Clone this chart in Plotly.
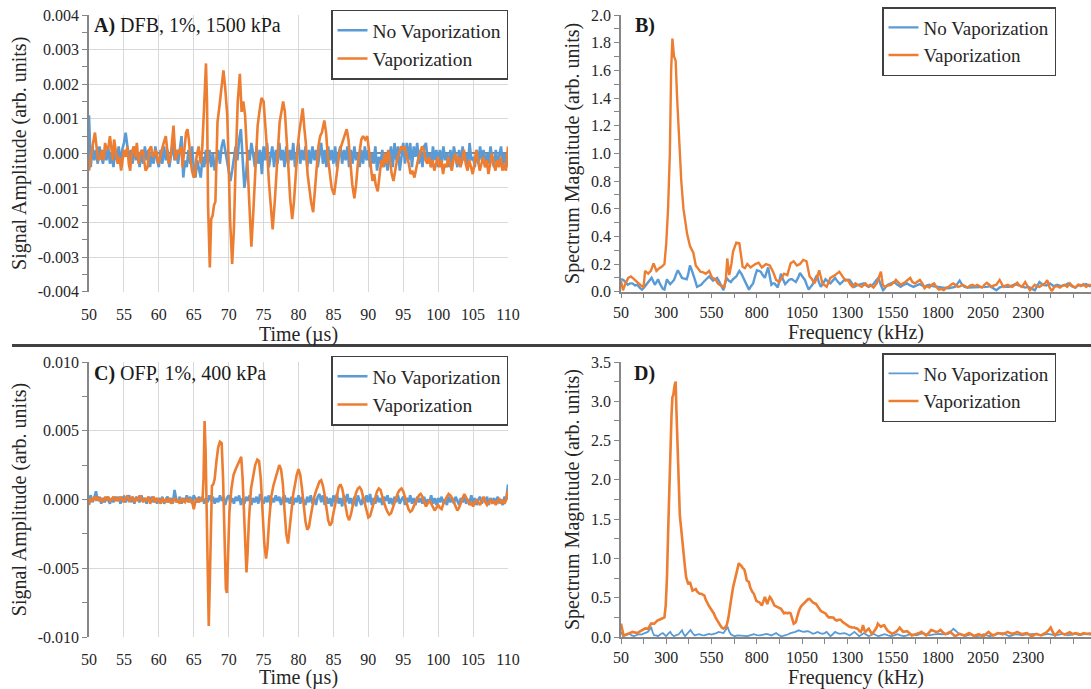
import plotly.graph_objects as go

# ---------------- DATA ----------------
# Panel A: DFB, 1%, 1500 kPa  (time in microseconds, amplitude arb. units)
A_NOVAP = [
    0.0011, -0.0004, 0.0002, -0.0002,
    0.0001, -0.0003, 0.0002, -0.0001,
    -0.0003, 0.0001, -0.0002, 0.0002,
    -0.0003, 0.0000, -0.0004, 0.0001,
    -0.0002, 0.0002, -0.0003, 0.0001,
    0.0003, 0.0006, 0.0002, -0.0002,
    0.0001, -0.0003, 0.0002, -0.0002,
    0.0000, -0.0004, 0.0001, -0.0003,
    0.0002, -0.0002, 0.0001, -0.0004,
    0.0000, -0.0003, 0.0002, -0.0002,
    -0.0004, 0.0001, -0.0003, 0.0002,
    -0.0002, 0.0001, -0.0004, 0.0000,
    0.0003, -0.0002, 0.0001, -0.0003,
    0.0002, 0.0005, -0.0007, -0.0002,
    -0.0004, 0.0001, -0.0003, 0.0002,
    -0.0004, -0.0007, -0.0002, -0.0005,
    -0.0007, -0.0001, -0.0004, 0.0001,
    -0.0003, 0.0001, -0.0004, 0.0000,
    -0.0005, -0.0002, 0.0001, -0.0003,
    0.0002, 0.0004, 0.0001, -0.0002,
    -0.0004, -0.0008, -0.0005, -0.0002,
    0.0002, -0.0002, 0.0004, 0.0007,
    -0.0003, -0.0010, -0.0006, 0.0001,
    -0.0002, 0.0003, 0.0000, -0.0004,
    0.0002, -0.0003, 0.0001, -0.0006,
    0.0002, -0.0002, 0.0003, -0.0004,
    -0.0001, 0.0002, -0.0004, 0.0001,
    -0.0003, 0.0003, -0.0002, 0.0001,
    -0.0004, 0.0002, -0.0003, 0.0001,
    -0.0002, 0.0003, -0.0004, 0.0000,
    0.0003, -0.0003, 0.0001, -0.0002,
    0.0002, -0.0004, 0.0001, -0.0003,
    0.0002, -0.0002, 0.0001, -0.0004,
    0.0000, 0.0003, -0.0003, 0.0001,
    -0.0004, 0.0002, -0.0002, 0.0001,
    -0.0003, 0.0002, -0.0004, 0.0000,
    0.0002, -0.0003, 0.0001, -0.0002,
    0.0002, -0.0004, 0.0001, -0.0003,
    0.0002, -0.0002, 0.0000, -0.0004,
    0.0001, -0.0003, 0.0002, -0.0002,
    0.0001, -0.0004, 0.0000, -0.0003,
    0.0002, -0.0005, -0.0001, -0.0003,
    0.0001, -0.0004, 0.0000, -0.0005,
    -0.0001, 0.0002, -0.0004, 0.0003,
    -0.0002, 0.0002, -0.0005, 0.0000,
    0.0003, -0.0003, 0.0003, -0.0002,
    0.0003, -0.0004, 0.0002, -0.0001,
    0.0003, -0.0003, 0.0001, -0.0004,
    0.0002, 0.0003, -0.0002, 0.0000,
    -0.0004, 0.0002, -0.0002, 0.0001,
    -0.0004, 0.0001, -0.0003, 0.0002,
    -0.0002, 0.0000, -0.0004, 0.0001,
    -0.0003, 0.0002, -0.0001, -0.0004,
    0.0001, -0.0003, 0.0002, -0.0002,
    0.0000, -0.0004, 0.0003, -0.0002,
    -0.0001, -0.0004, 0.0001, -0.0003,
    0.0002, -0.0002, 0.0001, -0.0004,
    0.0000, -0.0003, 0.0002, -0.0002,
    -0.0004, 0.0001, -0.0003, 0.0000,
    0.0002, -0.0003, 0.0000, -0.0004,
    -0.0002,
]

A_VAP_PTS = [
    (50.0, -0.0005), (50.25, -0.0001), (50.5, 0.0002), (50.85, 0.0006), (51.1, 0.0001),
    (51.3, -0.0002), (51.6, -0.00015), (51.85, 0.0001), (52.1, -0.0002), (52.3, 0.0003),
    (52.55, 0.0001), (52.8, 0.0002), (53.0, 0.0005), (53.2, 0.0001), (53.4, -0.0002),
    (53.6, 0.0004), (53.85, 0.0001), (54.1, -0.0003), (54.35, -0.0001), (54.6, -0.0005),
    (54.8, -0.0002), (55.0, 0.0001), (55.25, -0.0001), (55.5, 0.0002), (55.7, -0.0003),
    (55.9, -0.0005), (56.1, 0.0), (56.4, 0.0002), (56.65, -0.0001), (56.85, 0.0003),
    (57.1, -0.0003), (57.35, 0.0), (57.7, 0.0001), (57.9, -0.0003), (58.1, -0.0005),
    (58.4, -0.0004), (58.6, 0.0001), (58.9, 0.0002), (59.1, -0.0001), (59.3, -0.00005),
    (59.6, 0.0001), (59.8, -0.0002), (60.0, -0.0003), (60.3, 0.0), (60.5, 0.0002),
    (60.7, 0.0003), (61.0, 0.0005), (61.2, 0.0), (61.4, -0.0003), (61.7, -0.0001),
    (61.9, 0.0004), (62.1, 0.0008), (62.4, -0.0002), (62.7, 0.0001), (63.0, 0.0),
    (63.2, 0.0002), (63.4, -0.0004), (63.65, 0.0001), (63.9, 0.0006), (64.1, 0.0007),
    (64.3, 0.0004), (64.5, -0.0001), (64.75, -0.0005), (65.0, -0.0007), (65.2, -0.0006),
    (65.4, -0.0001), (65.7, 0.0002), (66.0, -0.0003), (66.2, 0.0001), (66.45, 0.0012),
    (66.75, 0.0026), (66.9, 0.0015), (67.05, -0.0015), (67.3, -0.0033), (67.5, -0.0019),
    (67.7, -0.0018), (67.9, -0.0015), (68.1, -0.0014), (68.25, -0.0005), (68.4, 0.0009),
    (68.7, 0.0014), (69.0, 0.0019), (69.25, 0.0024), (69.5, 0.0019), (69.8, 0.0011),
    (70.0, -0.0003), (70.2, -0.0019), (70.5, -0.0032), (70.75, -0.0022), (71.0, -0.0003),
    (71.3, 0.0015), (71.6, 0.0023), (71.85, 0.0012), (72.1, 0.0015), (72.35, 0.0011),
    (72.6, 0.0001), (72.8, -0.0008), (73.05, -0.0020), (73.25, -0.0027), (73.5, -0.0018),
    (73.9, 0.0001), (74.15, 0.0008), (74.4, 0.0012), (74.7, 0.0016), (75.0, 0.0015),
    (75.25, 0.0009), (75.5, 0.0001), (75.75, -0.0008), (76.0, -0.0014), (76.3, -0.0022),
    (76.6, -0.0014), (76.85, -0.0006), (77.1, 0.0001), (77.3, 0.0009), (77.55, 0.0012),
    (77.8, 0.0015), (78.05, 0.0012), (78.3, 0.0005), (78.55, -0.0004), (78.8, -0.0013),
    (79.1, -0.0019), (79.35, -0.0014), (79.6, -0.0006), (79.85, 0.0001), (80.1, 0.0006),
    (80.35, 0.0010), (80.6, 0.0013), (80.85, 0.0007), (81.05, 0.0003), (81.3, -0.0006),
    (81.55, -0.0011), (81.8, -0.0014), (82.1, -0.0017), (82.35, -0.0011), (82.6, -0.0003),
    (82.85, 0.0002), (83.1, 0.0005), (83.35, 0.0006), (83.7, 0.00095), (83.95, 0.0006),
    (84.2, -0.0001), (84.45, -0.0006), (84.75, -0.0010), (85.1, -0.0012), (85.35, -0.0008),
    (85.6, -0.0003), (85.85, 0.0000), (86.1, 0.0002), (86.4, 0.0004), (86.65, 0.0005),
    (86.9, 0.0007), (87.15, 0.0004), (87.4, -0.0003), (87.7, -0.0009), (88.0, -0.0013),
    (88.25, -0.0009), (88.5, -0.0003), (88.75, 0.0001), (89.0, 0.0004), (89.25, 0.0005),
    (89.55, 0.0004), (89.85, 0.0005), (90.1, 0.0), (90.35, -0.0005), (90.6, -0.0008),
    (90.85, -0.0006), (91.05, -0.0009), (91.35, -0.0011), (91.6, -0.0006), (91.85, -0.0002),
    (92.1, -0.0004), (92.35, 0.0), (92.6, -0.0003), (92.85, 0.0001), (93.1, -0.0002),
    (93.35, -0.0006), (93.6, -0.0008), (93.85, -0.0005), (94.1, -0.0002), (94.4, 0.0),
    (94.7, 0.0002), (94.95, 0.0001), (95.2, 0.0002), (95.5, -0.0001), (95.8, -0.0003),
    (96.05, -0.0006), (96.3, -0.0005), (96.6, -0.0007), (96.85, -0.0004), (97.1, -0.0002),
    (97.4, 0.0), (97.7, 0.0002), (97.95, 0.0001), (98.2, -0.0002), (98.45, -0.0003),
    (98.7, -0.0001), (98.95, -0.0004), (99.2, -0.0002), (99.45, -0.0005), (99.7, -0.0003),
    (99.95, -0.0001), (100.2, -0.0004), (100.45, -0.0002), (100.7, -0.0006), (100.95, -0.0003),
    (101.2, -0.0004), (101.45, -0.0001), (101.7, -0.0003), (101.95, -0.0005), (102.2, -0.0002),
    (102.45, 0.0), (102.7, -0.0003), (102.95, -0.0001), (103.2, -0.0004), (103.45, -0.0002),
    (103.7, 0.0001), (103.95, -0.0003), (104.2, -0.0005), (104.45, -0.0002), (104.7, -0.0004),
    (104.95, -0.0006), (105.2, -0.0003), (105.45, 0.0001), (105.7, -0.0002), (105.95, -0.0005),
    (106.2, -0.0003), (106.45, -0.0001), (106.7, -0.0004), (106.95, -0.0002), (107.2, -0.0006),
    (107.45, -0.0003), (107.7, 0.0), (107.95, -0.0003), (108.2, -0.0005), (108.45, -0.0002),
    (108.7, -0.0004), (108.95, -0.0001), (109.2, -0.0005), (109.45, -0.0003), (109.7, -0.0005),
    (110.0, 0.0002),
]

# Panel C: OFP, 1%, 400 kPa
C_NOVAP = [
    0.0000, 0.0003, -0.0002, 0.0001,
    0.0006, -0.0001, 0.0002, -0.0003,
    0.0001, -0.0002, 0.0002, -0.0001,
    -0.0003, 0.0001, -0.0002, 0.0002,
    -0.0001, 0.0002, -0.0003, 0.0001,
    0.0002, -0.0002, 0.0001, 0.0003,
    -0.0002, 0.0001, -0.0003, 0.0002,
    0.0000, -0.0002, 0.0003, -0.0001,
    0.0001, -0.0003, 0.0002, -0.0001,
    0.0002, -0.0002, 0.0001, -0.0003,
    0.0001, -0.0001, 0.0002, -0.0003,
    0.0000, 0.0002, -0.0002, 0.0001,
    -0.0003, 0.0007, 0.0000, -0.0002,
    0.0002, -0.0003, 0.0001, -0.0002,
    0.0003, -0.0001, 0.0002, -0.0003,
    0.0003, 0.0000, -0.0002, 0.0002,
    -0.0001, 0.0002, -0.0003, 0.0001,
    -0.0002, 0.0003, -0.0001, 0.0002,
    -0.0003, 0.0001, -0.0002, 0.0003,
    -0.0001, 0.0002, -0.0004, 0.0001,
    0.0003, -0.0002, 0.0001, -0.0003,
    0.0002, -0.0001, 0.0003, -0.0004,
    0.0001, -0.0003, 0.0002, -0.0001,
    0.0003, -0.0004, 0.0001, -0.0002,
    0.0002, -0.0003, 0.0004, -0.0001,
    -0.0003, 0.0002, -0.0002, 0.0003,
    -0.0004, 0.0001, -0.0002, 0.0003,
    -0.0001, 0.0002, -0.0004, 0.0001,
    0.0003, -0.0002, 0.0001, -0.0003,
    0.0002, -0.0004, 0.0001, -0.0002,
    0.0003, -0.0003, 0.0002, -0.0001,
    -0.0004, 0.0002, -0.0002, 0.0003,
    -0.0003, 0.0001, -0.0004, 0.0002,
    0.0004, -0.0002, 0.0003, -0.0004,
    0.0002, -0.0003, 0.0001, -0.0005,
    0.0003, -0.0002, 0.0004, -0.0003,
    0.0001, -0.0005, 0.0003, -0.0002,
    0.0004, -0.0003, 0.0001, -0.0004,
    0.0002, -0.0005, 0.0003, -0.0001,
    -0.0004, 0.0002, -0.0003, 0.0003,
    -0.0002, 0.0004, -0.0004, 0.0001,
    -0.0003, 0.0003, -0.0002, 0.0001,
    -0.0004, 0.0002, -0.0001, 0.0003,
    -0.0003, 0.0001, -0.0004, 0.0002,
    -0.0002, 0.0003, -0.0003, 0.0000,
    0.0002, -0.0004, 0.0001, -0.0002,
    0.0003, -0.0003, 0.0001, -0.0004,
    0.0002, -0.0002, 0.0001, -0.0003,
    0.0002, -0.0004, 0.0000, -0.0002,
    0.0003, -0.0003, 0.0001, -0.0004,
    0.0001, -0.0002, 0.0002, -0.0003,
    0.0000, -0.0004, 0.0002, -0.0002,
    0.0001, -0.0003, 0.0002, -0.0001,
    -0.0004, 0.0001, -0.0002, 0.0002,
    -0.0003, 0.0000, -0.0002, 0.0003,
    -0.0003, 0.0001, -0.0004, 0.0000,
    0.0002, -0.0003, 0.0001, -0.0002,
    0.0002, -0.0004, 0.0001, -0.0002,
    0.0001, -0.0003, 0.0002, -0.0002,
    -0.0001, -0.0004, 0.0002, 0.0000,
    0.0011,
]

C_VAP_PTS = [
    (50.0, -0.0004), (50.25, 0.0001), (50.5, -0.0001), (50.75, 0.0002), (51.0, 0.0),
    (51.25, 0.0002), (51.5, -0.0001), (51.75, 0.0001), (52.0, -0.0002), (52.25, 0.0001),
    (52.5, 0.0), (52.75, 0.0002), (53.0, -0.0001), (53.25, 0.0), (53.5, 0.0002),
    (53.75, -0.0001), (54.0, 0.0001), (54.25, -0.0001), (54.5, 0.0002), (54.75, 0.0),
    (55.0, -0.0002), (55.25, 0.0001), (55.5, 0.0003), (55.75, -0.0001), (56.0, 0.0),
    (56.25, 0.0002), (56.5, -0.0002), (56.75, 0.0001), (57.0, -0.0001), (57.25, 0.0003),
    (57.5, 0.0), (57.75, -0.0002), (58.0, 0.0001), (58.25, -0.0001), (58.5, 0.0002),
    (58.75, -0.0003), (59.0, 0.0), (59.25, 0.0002), (59.5, -0.0002), (59.75, 0.0001),
    (60.0, -0.0001), (60.25, -0.0003), (60.5, 0.0001), (60.75, -0.0002), (61.0, 0.0),
    (61.25, -0.0002), (61.5, 0.0001), (61.75, -0.0003), (62.0, -0.0001), (62.25, 0.0001),
    (62.5, -0.0002), (62.75, 0.0), (63.0, -0.0003), (63.25, 0.0001), (63.5, -0.0001),
    (63.75, -0.0002), (64.0, 0.0001), (64.25, -0.0002), (64.5, 0.0), (64.75, -0.0001),
    (65.0, -0.0007), (65.25, -0.0001), (65.5, 0.0001), (65.75, -0.0002), (66.0, 0.0),
    (66.25, -0.0001), (66.4, 0.0015), (66.55, 0.0057), (66.7, 0.0035), (66.85, -0.002),
    (67.0, -0.0075), (67.15, -0.0092), (67.3, -0.006), (67.45, -0.001), (67.6, 0.001),
    (67.8, 0.0011), (68.0, 0.0015), (68.25, 0.0028), (68.5, 0.0038), (68.75, 0.0042),
    (69.0, 0.0041), (69.2, 0.0015), (69.4, -0.003), (69.6, -0.0065), (69.75, -0.0068),
    (69.9, -0.004), (70.1, -0.001), (70.4, 0.0008), (70.7, 0.0018), (71.0, 0.0022),
    (71.3, 0.0025), (71.6, 0.0029), (71.8, 0.0031), (72.0, 0.0015), (72.2, -0.0015),
    (72.4, -0.0045), (72.55, -0.0053), (72.7, -0.004), (72.9, -0.0015), (73.2, 0.0008),
    (73.5, 0.0018), (73.8, 0.0025), (74.1, 0.0029), (74.35, 0.0028), (74.6, 0.0015),
    (74.85, -0.001), (75.1, -0.0032), (75.35, -0.0043), (75.55, -0.0035), (75.8, -0.0015),
    (76.1, 0.0002), (76.4, 0.001), (76.7, 0.0016), (77.0, 0.0021), (77.25, 0.0025),
    (77.5, 0.0022), (77.75, 0.0012), (78.0, -0.0008), (78.25, -0.0025), (78.5, -0.0032),
    (78.75, -0.0022), (79.0, -0.0008), (79.25, 0.0004), (79.5, 0.0012), (79.75, 0.0018),
    (80.0, 0.0022), (80.25, 0.0018), (80.5, 0.0008), (80.75, -0.0006), (81.0, -0.0016),
    (81.25, -0.0022), (81.5, -0.002), (81.75, -0.0012), (82.0, -0.0004), (82.25, 0.0002),
    (82.5, 0.0006), (82.75, 0.0010), (83.0, 0.0013), (83.25, 0.0014), (83.5, 0.0010),
    (83.75, 0.0003), (84.0, -0.0007), (84.25, -0.0015), (84.5, -0.0019), (84.75, -0.0017),
    (85.0, -0.0010), (85.25, -0.0003), (85.5, 0.0004), (85.75, 0.0009), (86.0, 0.0011),
    (86.25, 0.0008), (86.5, 0.0002), (86.75, -0.0006), (87.0, -0.0012), (87.25, -0.0015),
    (87.5, -0.0011), (87.75, -0.0005), (88.0, 0.0001), (88.25, 0.0005), (88.5, 0.0008),
    (88.75, 0.0009), (89.0, 0.0007), (89.25, 0.0002), (89.5, -0.0005), (89.75, -0.0010),
    (90.0, -0.0013), (90.25, -0.0012), (90.5, -0.0007), (90.75, -0.0002), (91.0, 0.0003),
    (91.25, 0.0006), (91.5, 0.0008), (91.75, 0.0007), (92.0, 0.0002), (92.25, -0.0003),
    (92.5, -0.0006), (92.75, -0.0009), (93.0, -0.0011), (93.25, -0.0010), (93.5, -0.0006),
    (93.75, -0.0002), (94.0, 0.0002), (94.25, 0.0005), (94.5, 0.0007), (94.75, 0.0008),
    (95.0, 0.0006), (95.25, 0.0001), (95.5, -0.0004), (95.75, -0.0007), (96.0, -0.0009),
    (96.25, -0.0008), (96.5, -0.0005), (96.75, -0.0002), (97.0, 0.0001), (97.25, 0.0003),
    (97.5, 0.0004), (97.75, 0.0002), (98.0, -0.0002), (98.25, -0.0005), (98.5, -0.0003),
    (98.75, -0.0001), (99.0, -0.0003), (99.25, -0.0006), (99.5, -0.0008), (99.75, -0.0006),
    (100.0, -0.0004), (100.25, -0.0006), (100.5, -0.0007), (100.75, -0.0003), (101.0, 0.0),
    (101.25, 0.0002), (101.5, 0.0004), (101.75, 0.0003), (102.0, 0.0001), (102.25, -0.0002),
    (102.5, -0.0005), (102.75, -0.0008), (103.0, -0.0006), (103.25, -0.0002), (103.5, 0.0001),
    (103.75, 0.0004), (104.0, 0.0002), (104.25, -0.0001), (104.5, -0.0004), (104.75, -0.0002),
    (105.0, -0.0005), (105.25, -0.0003), (105.5, 0.0), (105.75, -0.0002), (106.0, -0.0004),
    (106.25, -0.0001), (106.5, 0.0002), (106.75, -0.0002), (107.0, -0.0004), (107.25, -0.0002),
    (107.5, 0.0), (107.75, -0.0003), (108.0, -0.0001), (108.25, -0.0004), (108.5, -0.0002),
    (108.75, 0.0001), (109.0, -0.0003), (109.25, -0.0001), (109.5, -0.0003), (109.75, 0.0),
    (110.0, 0.0007),
]

# Panel B spectra (frequency kHz, magnitude)
B_NOVAP_PTS = [
    (50, 0.09), (62, 0.085), (75, 0.07), (87, 0.05), (100, 0.06), (113, 0.06), (127, 0.045),
    (140, 0.05), (153, 0.03), (166, 0.015), (180, 0.035), (193, 0.055), (206, 0.08), (219, 0.1),
    (228, 0.075), (237, 0.05), (246, 0.07), (255, 0.09), (264, 0.06), (272, 0.035), (281, 0.02),
    (290, 0.015), (297, 0.05), (304, 0.09), (313, 0.07), (322, 0.055), (333, 0.07), (343, 0.085),
    (353, 0.12), (364, 0.155), (375, 0.13), (387, 0.1), (400, 0.095), (413, 0.09), (422, 0.13),
    (431, 0.19), (440, 0.16), (449, 0.13), (460, 0.08), (470, 0.035), (481, 0.045), (493, 0.05),
    (506, 0.07), (519, 0.09), (528, 0.1), (537, 0.11), (548, 0.095), (558, 0.08), (570, 0.09),
    (581, 0.1), (590, 0.08), (598, 0.055), (607, 0.03), (616, 0.01), (625, 0.06), (634, 0.1),
    (645, 0.08), (657, 0.07), (668, 0.09), (678, 0.1), (687, 0.11), (695, 0.13), (704, 0.15),
    (715, 0.13), (727, 0.1), (740, 0.06), (750, 0.035), (757, 0.015), (768, 0.04), (780, 0.06),
    (790, 0.11), (801, 0.155), (812, 0.15), (822, 0.145), (833, 0.12), (845, 0.1), (854, 0.14),
    (863, 0.175), (872, 0.11), (881, 0.05), (890, 0.06), (898, 0.06), (907, 0.045), (916, 0.03),
    (925, 0.08), (934, 0.13), (945, 0.09), (957, 0.055), (968, 0.07), (978, 0.085), (987, 0.09),
    (995, 0.09), (1005, 0.08), (1016, 0.07), (1028, 0.1), (1039, 0.135), (1052, 0.11),
    (1066, 0.085), (1076, 0.05), (1087, 0.015), (1098, 0.035), (1110, 0.055), (1121, 0.09),
    (1133, 0.12), (1143, 0.07), (1154, 0.035), (1167, 0.06), (1180, 0.09), (1193, 0.075),
    (1207, 0.06), (1220, 0.08), (1233, 0.1), (1246, 0.075), (1260, 0.055), (1273, 0.07),
    (1286, 0.09), (1300, 0.085), (1313, 0.085), (1326, 0.06), (1339, 0.035), (1352, 0.045),
    (1366, 0.05), (1379, 0.055), (1392, 0.06), (1405, 0.045), (1419, 0.035), (1432, 0.045),
    (1445, 0.055), (1458, 0.08), (1472, 0.1), (1485, 0.05), (1498, 0.01), (1511, 0.03),
    (1524, 0.05), (1542, 0.06), (1560, 0.07), (1577, 0.05), (1595, 0.035), (1612, 0.05),
    (1630, 0.06), (1648, 0.045), (1666, 0.035), (1683, 0.045), (1701, 0.055), (1714, 0.045),
    (1727, 0.035), (1740, 0.045), (1754, 0.05), (1771, 0.04), (1789, 0.035), (1806, 0.03),
    (1824, 0.03), (1842, 0.028), (1860, 0.025), (1878, 0.03), (1895, 0.035), (1910, 0.06),
    (1921, 0.08), (1935, 0.05), (1948, 0.035), (1965, 0.03), (1983, 0.03), (2000, 0.035),
    (2018, 0.035), (2036, 0.03), (2054, 0.03), (2071, 0.035), (2089, 0.04), (2106, 0.025),
    (2124, 0.01), (2141, 0.03), (2159, 0.04), (2177, 0.035), (2195, 0.035), (2212, 0.045),
    (2230, 0.055), (2248, 0.045), (2265, 0.035), (2283, 0.03), (2300, 0.035), (2318, 0.02),
    (2336, 0.01), (2349, 0.04), (2362, 0.07), (2380, 0.05), (2400, 0.045), (2420, 0.06),
    (2440, 0.04), (2460, 0.05), (2480, 0.04), (2500, 0.045), (2520, 0.06), (2540, 0.04),
    (2560, 0.03), (2580, 0.05), (2600, 0.045), (2620, 0.055), (2640, 0.04), (2660, 0.05),
]

B_VAP_PTS = [
    (50, 0.08), (61, 0.01), (75, 0.06), (90, 0.1), (105, 0.11), (122, 0.09), (140, 0.065),
    (160, 0.045), (175, 0.035), (183, 0.15), (200, 0.13), (215, 0.15), (230, 0.205), (246, 0.15),
    (262, 0.17), (275, 0.18), (290, 0.2), (300, 0.35), (310, 0.6), (320, 1.0), (327, 1.6),
    (334, 1.83), (343, 1.7), (352, 1.67), (360, 1.4), (368, 1.15), (383, 0.8), (395, 0.6),
    (404, 0.52), (415, 0.42), (431, 0.33), (440, 0.3), (450, 0.28), (463, 0.19), (475, 0.17),
    (489, 0.145), (505, 0.14), (519, 0.13), (537, 0.15), (554, 0.1), (572, 0.09), (585, 0.06),
    (600, 0.045), (621, 0.035), (630, 0.1), (637, 0.24), (648, 0.12), (660, 0.2), (669, 0.29),
    (680, 0.34), (687, 0.355), (704, 0.35), (714, 0.25), (722, 0.18), (735, 0.17), (748, 0.2),
    (766, 0.175), (780, 0.19), (792, 0.2), (810, 0.21), (828, 0.175), (851, 0.2), (872, 0.19),
    (890, 0.145), (907, 0.085), (925, 0.07), (938, 0.1), (951, 0.13), (969, 0.12), (987, 0.205),
    (1004, 0.22), (1022, 0.19), (1039, 0.2), (1057, 0.23), (1075, 0.22), (1092, 0.11),
    (1105, 0.09), (1119, 0.06), (1132, 0.1), (1145, 0.155), (1163, 0.06), (1186, 0.035),
    (1207, 0.1), (1220, 0.11), (1233, 0.12), (1256, 0.145), (1277, 0.1), (1290, 0.08),
    (1304, 0.085), (1318, 0.05), (1330, 0.035), (1345, 0.06), (1357, 0.05), (1380, 0.035),
    (1401, 0.06), (1414, 0.04), (1427, 0.05), (1445, 0.03), (1463, 0.06), (1486, 0.145),
    (1496, 0.05), (1507, 0.035), (1525, 0.045), (1542, 0.05), (1560, 0.07), (1569, 0.085),
    (1595, 0.05), (1621, 0.07), (1648, 0.1), (1660, 0.07), (1674, 0.06), (1701, 0.085),
    (1715, 0.06), (1727, 0.025), (1740, 0.04), (1754, 0.03), (1767, 0.05), (1780, 0.06),
    (1795, 0.03), (1807, 0.015), (1820, 0.02), (1833, 0.01), (1848, 0.03), (1860, 0.035),
    (1873, 0.05), (1886, 0.06), (1900, 0.045), (1912, 0.035), (1925, 0.04), (1939, 0.05),
    (1952, 0.04), (1965, 0.03), (1978, 0.045), (1992, 0.05), (2005, 0.04), (2018, 0.05),
    (2032, 0.04), (2045, 0.03), (2058, 0.05), (2071, 0.065), (2085, 0.05), (2098, 0.035),
    (2110, 0.045), (2124, 0.05), (2142, 0.085), (2163, 0.035), (2175, 0.045), (2186, 0.05),
    (2200, 0.04), (2212, 0.035), (2226, 0.05), (2239, 0.065), (2252, 0.045), (2265, 0.035),
    (2283, 0.07), (2295, 0.04), (2309, 0.01), (2322, 0.03), (2336, 0.05), (2349, 0.04),
    (2362, 0.035), (2380, 0.05), (2393, 0.06), (2405, 0.084), (2418, 0.03), (2430, 0.005),
    (2445, 0.035), (2460, 0.04), (2475, 0.03), (2490, 0.045), (2500, 0.05), (2515, 0.035),
    (2530, 0.06), (2545, 0.04), (2560, 0.03), (2575, 0.05), (2590, 0.04), (2605, 0.055),
    (2620, 0.035), (2635, 0.05), (2660, 0.045),
]

# Panel D spectra
D_NOVAP_PTS = [
    (50, 0.065), (62, 0.01), (75, 0.02), (87, 0.035), (96, 0.04), (109, 0.02), (122, 0.01),
    (136, 0.025), (149, 0.035), (162, 0.03), (175, 0.04), (187, 0.05), (198, 0.065), (207, 0.09),
    (216, 0.13), (225, 0.06), (233, 0.02), (244, 0.02), (255, 0.01), (268, 0.035), (281, 0.05),
    (290, 0.03), (299, 0.01), (310, 0.04), (322, 0.065), (332, 0.03), (343, 0.01), (356, 0.025),
    (369, 0.035), (378, 0.06), (387, 0.085), (395, 0.04), (404, 0.01), (419, 0.05), (434, 0.09),
    (445, 0.05), (457, 0.02), (470, 0.03), (484, 0.035), (497, 0.025), (510, 0.02), (523, 0.03),
    (537, 0.04), (550, 0.03), (563, 0.035), (577, 0.05), (590, 0.065), (603, 0.055), (616, 0.05),
    (628, 0.09), (639, 0.13), (648, 0.07), (657, 0.035), (668, 0.02), (678, 0.01), (695, 0.02),
    (713, 0.02), (730, 0.015), (748, 0.01), (766, 0.025), (784, 0.035), (801, 0.025), (819, 0.02),
    (836, 0.03), (854, 0.04), (868, 0.03), (881, 0.02), (894, 0.035), (907, 0.05), (920, 0.03),
    (934, 0.01), (947, 0.015), (960, 0.02), (974, 0.035), (987, 0.05), (1000, 0.055),
    (1013, 0.065), (1022, 0.075), (1031, 0.085), (1044, 0.075), (1057, 0.065), (1070, 0.07),
    (1083, 0.075), (1096, 0.06), (1110, 0.04), (1123, 0.05), (1136, 0.065), (1150, 0.05),
    (1163, 0.04), (1175, 0.05), (1186, 0.065), (1196, 0.04), (1207, 0.01), (1220, 0.035),
    (1233, 0.065), (1246, 0.05), (1260, 0.04), (1273, 0.045), (1286, 0.05), (1300, 0.035),
    (1313, 0.02), (1326, 0.04), (1339, 0.065), (1352, 0.04), (1366, 0.01), (1379, 0.03),
    (1392, 0.05), (1405, 0.03), (1419, 0.01), (1432, 0.025), (1445, 0.04), (1458, 0.025),
    (1472, 0.01), (1490, 0.025), (1507, 0.035), (1525, 0.02), (1542, 0.01), (1560, 0.02),
    (1577, 0.035), (1595, 0.02), (1613, 0.01), (1630, 0.02), (1648, 0.035), (1666, 0.03),
    (1683, 0.02), (1701, 0.035), (1719, 0.05), (1736, 0.035), (1754, 0.02), (1771, 0.03),
    (1789, 0.04), (1806, 0.04), (1824, 0.035), (1842, 0.035), (1860, 0.04), (1873, 0.07),
    (1886, 0.105), (1899, 0.08), (1912, 0.05), (1930, 0.03), (1948, 0.01), (1965, 0.02),
    (1983, 0.035), (2000, 0.02), (2018, 0.01), (2036, 0.02), (2054, 0.035), (2071, 0.02),
    (2089, 0.01), (2106, 0.025), (2124, 0.04), (2141, 0.045), (2159, 0.05), (2177, 0.03),
    (2195, 0.01), (2212, 0.02), (2230, 0.035), (2248, 0.03), (2265, 0.02), (2283, 0.03),
    (2300, 0.035), (2318, 0.04), (2336, 0.04), (2354, 0.03), (2371, 0.02), (2390, 0.03),
    (2410, 0.04), (2430, 0.03), (2450, 0.02), (2470, 0.03), (2490, 0.04), (2500, 0.035),
    (2520, 0.02), (2540, 0.03), (2560, 0.04), (2580, 0.025), (2600, 0.03), (2620, 0.04),
    (2640, 0.03), (2660, 0.035),
]

D_VAP_PTS = [
    (50, 0.17), (64, 0.02), (75, 0.03), (87, 0.035), (100, 0.05), (113, 0.065), (127, 0.055),
    (140, 0.05), (153, 0.07), (166, 0.09), (184, 0.11), (200, 0.105), (216, 0.17), (233, 0.17),
    (251, 0.21), (262, 0.22), (272, 0.23), (281, 0.24), (290, 0.25), (297, 0.4), (304, 0.76),
    (310, 1.3), (316, 1.81), (322, 2.4), (329, 2.82), (334, 3.05), (339, 3.08), (346, 3.2),
    (352, 3.25), (356, 2.9), (360, 2.57), (365, 2.1), (369, 1.73), (375, 1.55), (382, 1.39),
    (389, 1.2), (396, 1.05), (403, 0.9), (410, 0.76), (416, 0.7), (422, 0.67), (431, 0.7),
    (438, 0.64), (445, 0.59), (454, 0.6), (463, 0.61), (470, 0.58), (475, 0.57), (484, 0.55),
    (493, 0.55), (502, 0.54), (510, 0.53), (519, 0.47), (528, 0.42), (537, 0.39), (546, 0.36),
    (555, 0.33), (563, 0.30), (572, 0.25), (581, 0.21), (590, 0.17), (598, 0.15), (607, 0.12),
    (616, 0.105), (625, 0.12), (634, 0.15), (643, 0.24), (651, 0.34), (660, 0.5), (669, 0.63),
    (678, 0.72), (687, 0.8), (694, 0.88), (701, 0.94), (707, 0.92), (713, 0.91), (722, 0.88),
    (731, 0.86), (738, 0.8), (745, 0.72), (751, 0.71), (757, 0.70), (764, 0.63), (770, 0.59),
    (777, 0.57), (784, 0.55), (791, 0.5), (798, 0.46), (806, 0.45), (815, 0.44), (822, 0.42),
    (828, 0.40), (836, 0.45), (845, 0.51), (851, 0.47), (858, 0.42), (865, 0.47), (872, 0.51),
    (879, 0.49), (886, 0.46), (892, 0.43), (898, 0.40), (907, 0.39), (916, 0.38), (925, 0.37),
    (934, 0.36), (942, 0.33), (951, 0.30), (960, 0.31), (969, 0.30), (978, 0.31), (987, 0.30),
    (995, 0.24), (1004, 0.17), (1010, 0.18), (1016, 0.19), (1025, 0.27), (1034, 0.34),
    (1045, 0.39), (1057, 0.42), (1066, 0.45), (1075, 0.46), (1083, 0.48), (1092, 0.485),
    (1101, 0.46), (1110, 0.44), (1119, 0.43), (1128, 0.42), (1136, 0.39), (1145, 0.36),
    (1154, 0.33), (1163, 0.32), (1171, 0.31), (1180, 0.30), (1189, 0.27), (1198, 0.25),
    (1212, 0.25), (1225, 0.245), (1233, 0.22), (1242, 0.21), (1252, 0.22), (1263, 0.22),
    (1275, 0.19), (1286, 0.17), (1300, 0.15), (1313, 0.13), (1326, 0.12), (1339, 0.12),
    (1348, 0.11), (1357, 0.105), (1366, 0.08), (1375, 0.065), (1381, 0.1), (1387, 0.15),
    (1394, 0.09), (1401, 0.065), (1410, 0.09), (1419, 0.105), (1428, 0.07), (1436, 0.04),
    (1445, 0.06), (1454, 0.085), (1462, 0.12), (1469, 0.17), (1478, 0.14), (1486, 0.13),
    (1495, 0.145), (1504, 0.15), (1514, 0.11), (1525, 0.075), (1536, 0.06), (1546, 0.04),
    (1557, 0.05), (1569, 0.065), (1580, 0.09), (1590, 0.12), (1600, 0.09), (1609, 0.065),
    (1620, 0.07), (1630, 0.075), (1643, 0.05), (1657, 0.02), (1670, 0.03), (1683, 0.035),
    (1697, 0.05), (1710, 0.065), (1723, 0.04), (1736, 0.02), (1750, 0.05), (1763, 0.09),
    (1776, 0.08), (1789, 0.065), (1802, 0.07), (1815, 0.09), (1828, 0.06), (1842, 0.035),
    (1855, 0.05), (1868, 0.065), (1882, 0.04), (1895, 0.01), (1908, 0.025), (1921, 0.04),
    (1935, 0.03), (1948, 0.02), (1961, 0.035), (1974, 0.05), (1988, 0.03), (2001, 0.01),
    (2014, 0.025), (2027, 0.035), (2040, 0.02), (2054, 0.01), (2067, 0.04), (2080, 0.065),
    (2093, 0.04), (2106, 0.02), (2120, 0.035), (2133, 0.05), (2146, 0.045), (2159, 0.035),
    (2172, 0.05), (2186, 0.065), (2199, 0.05), (2212, 0.04), (2226, 0.05), (2239, 0.065),
    (2252, 0.05), (2265, 0.035), (2279, 0.045), (2292, 0.05), (2305, 0.03), (2318, 0.01),
    (2332, 0.025), (2345, 0.04), (2358, 0.03), (2371, 0.02), (2385, 0.04), (2398, 0.055),
    (2410, 0.08), (2424, 0.12), (2436, 0.06), (2448, 0.02), (2460, 0.05), (2472, 0.08),
    (2485, 0.05), (2500, 0.03), (2515, 0.045), (2530, 0.06), (2545, 0.035), (2560, 0.05),
    (2575, 0.04), (2590, 0.03), (2605, 0.05), (2620, 0.04), (2640, 0.045), (2660, 0.04),
]

TIME_TICKS = [50, 55, 60, 65, 70, 75, 80, 85, 90, 95, 100, 105, 110]
FREQ_TICKS = [50, 300, 550, 800, 1050, 1300, 1550, 1800, 2050, 2300, 2550]
FREQ_TEXT = ["50", "300", "550", "800", "1050", "1300", "1550", "1800", "2050", "2300", ""]
A_YTICKS = [-0.004, -0.003, -0.002, -0.001, 0.0, 0.001, 0.002, 0.003, 0.004]
A_YTEXT = ["-0.004", "-0.003", "-0.002", "-0.001", "0.000", "0.001", "0.002", "0.003", "0.004"]
C_YTICKS = [-0.010, -0.005, 0.0, 0.005, 0.010]
C_YTEXT = ["-0.010", "-0.005", "0.000", "0.005", "0.010"]
SERIES_NAMES = ["No Vaporization", "Vaporization"]

# ---------------- STYLE ----------------
BLUE = "#5B9BD5"
ORANGE = "#ED7D31"
TXT = "#262626"
AX = "#868686"
GRID = "#D9D9D9"
FONT = "Liberation Serif, Times New Roman, serif"
W, H = 1091, 689

# pixel geometry of the plot areas
L_X0, L_X1 = 89, 508        # left column (time plots)
R_X0 = 621                  # right column axis start (50 kHz)
KHZ_PER_PX = 1 / 0.181      # frequency scale of the right column
F_MAX = 50 + (W - R_X0) * KHZ_PER_PX


def px2x(p):
    return p / W


def px2y(p):
    return 1 - p / H


def time_grid(values):
    return [50 + 0.25 * i for i in range(len(values))]


def unzip(pts):
    return [p[0] for p in pts], [p[1] for p in pts]


fig = go.Figure()

ta, va = unzip(A_VAP_PTS)
tc, vc = unzip(C_VAP_PTS)
fb0, mb0 = unzip(B_NOVAP_PTS)
fb1, mb1 = unzip(B_VAP_PTS)
fd0, md0 = unzip(D_NOVAP_PTS)
fd1, md1 = unzip(D_VAP_PTS)

fig.add_trace(go.Scatter(x=time_grid(A_NOVAP), y=A_NOVAP, mode="lines", name=SERIES_NAMES[0],
                         line=dict(color=BLUE, width=2.6), xaxis="x", yaxis="y", legend="legend"))
fig.add_trace(go.Scatter(x=ta, y=va, mode="lines", name=SERIES_NAMES[1],
                         line=dict(color=ORANGE, width=2.6), xaxis="x", yaxis="y", legend="legend"))
fig.add_trace(go.Scatter(x=fb0, y=mb0, mode="lines", name=SERIES_NAMES[0],
                         line=dict(color=BLUE, width=2.4), xaxis="x2", yaxis="y2", legend="legend2"))
fig.add_trace(go.Scatter(x=fb1, y=mb1, mode="lines", name=SERIES_NAMES[1],
                         line=dict(color=ORANGE, width=2.4), xaxis="x2", yaxis="y2", legend="legend2"))
fig.add_trace(go.Scatter(x=time_grid(C_NOVAP), y=C_NOVAP, mode="lines", name=SERIES_NAMES[0],
                         line=dict(color=BLUE, width=2.6), xaxis="x3", yaxis="y3", legend="legend3"))
fig.add_trace(go.Scatter(x=tc, y=vc, mode="lines", name=SERIES_NAMES[1],
                         line=dict(color=ORANGE, width=2.6), xaxis="x3", yaxis="y3", legend="legend3"))
fig.add_trace(go.Scatter(x=fd0, y=md0, mode="lines", name=SERIES_NAMES[0],
                         line=dict(color=BLUE, width=1.8), xaxis="x4", yaxis="y4", legend="legend4"))
fig.add_trace(go.Scatter(x=fd1, y=md1, mode="lines", name=SERIES_NAMES[1],
                         line=dict(color=ORANGE, width=2.6), xaxis="x4", yaxis="y4", legend="legend4"))

LEFT_DOM = [px2x(L_X0), px2x(L_X1)]
RIGHT_DOM = [px2x(R_X0), 1.0]
TOP_DOM = [px2y(291.7), px2y(15)]
BOT_DOM = [px2y(637), px2y(362)]

tickfont = dict(family=FONT, size=16, color=TXT)
titlefont = dict(family=FONT, size=20, color=TXT)


def time_xaxis(domain, anchor):
    return dict(domain=domain, anchor=anchor, range=[50, 110], tickvals=TIME_TICKS,
                automargin=False,
                showgrid=True, gridcolor=GRID, gridwidth=1, zeroline=False, showline=False,
                ticks="", ticklabelstandoff=11, tickfont=tickfont,
                title=dict(text="Time (µs)", font=titlefont, standoff=2))


def freq_xaxis(domain, anchor):
    return dict(domain=domain, anchor=anchor, range=[50, F_MAX], tickvals=FREQ_TICKS,
                ticktext=FREQ_TEXT, automargin=False,
                showgrid=False, zeroline=False, showline=True, linecolor=AX, linewidth=1.5,
                ticks="outside", ticklen=5, tickcolor=AX, tickwidth=1.2, tickfont=tickfont,
                minor=dict(tick0=175, dtick=250, ticks="outside", ticklen=5, tickcolor=AX,
                           tickwidth=1.2, showgrid=False),
                title=dict(text="Frequency (kHz)", font=titlefont, standoff=4))


def yaxis_common(domain, anchor, title):
    return dict(domain=domain, anchor=anchor, automargin=False, showline=True, linecolor=AX,
                linewidth=1.5, ticks="outside", ticklen=5, tickcolor=AX, tickfont=tickfont,
                title=dict(text=title, font=titlefont, standoff=6))


ya = yaxis_common(TOP_DOM, "x", "Signal Amplitude (arb. units)")
ya.update(range=[-0.004, 0.004], tickvals=A_YTICKS, ticktext=A_YTEXT, showgrid=True,
          gridcolor=GRID, zeroline=True, zerolinecolor=AX, zerolinewidth=1.5,
          minor=dict(dtick=0.0005, ticks="outside", ticklen=5, tickcolor=AX, showgrid=False))
yb = yaxis_common(TOP_DOM, "x2", "Spectrum Magnitude (arb. units)")
yb.update(range=[0, 2.0], dtick=0.2, tickformat=".1f", showgrid=False, zeroline=False,
          minor=dict(dtick=0.1, ticks="outside", ticklen=5, tickcolor=AX, showgrid=False))
yc = yaxis_common(BOT_DOM, "x3", "Signal Amplitude (arb. units)")
yc.update(range=[-0.010, 0.010], tickvals=C_YTICKS, ticktext=C_YTEXT, showgrid=True,
          gridcolor=GRID, zeroline=True, zerolinecolor=GRID, zerolinewidth=1,
          minor=dict(dtick=0.0025, ticks="outside", ticklen=5, tickcolor=AX, showgrid=False))
yd = yaxis_common(BOT_DOM, "x4", "Spectrum Magnitude (arb. units)")
yd.update(range=[0, 3.5], dtick=0.5, tickformat=".1f", showgrid=False, zeroline=False,
          minor=dict(dtick=0.25, ticks="outside", ticklen=5, tickcolor=AX, showgrid=False))

fig.update_layout(
    template="none",
    width=W, height=H,
    margin=dict(l=0, r=0, t=0, b=0, pad=0, autoexpand=False),
    paper_bgcolor="white", plot_bgcolor="white",
    font=dict(family=FONT, color=TXT),
    xaxis=time_xaxis(LEFT_DOM, "y"),
    yaxis=ya,
    xaxis2=freq_xaxis(RIGHT_DOM, "y2"),
    yaxis2=yb,
    xaxis3=time_xaxis(LEFT_DOM, "y3"),
    yaxis3=yc,
    xaxis4=freq_xaxis(RIGHT_DOM, "y4"),
    yaxis4=yd,
)

legend_common = dict(bgcolor="white", bordercolor="#404040", borderwidth=1.5,
                     tracegroupgap=0, itemwidth=30, yanchor="top", entrywidthmode="pixels")
lf_big = dict(family=FONT, size=19.5, color=TXT)
lf_small = dict(family=FONT, size=19, color=TXT)
fig.update_layout(
    legend=dict(x=px2x(508), xanchor="right", y=px2y(9.5), font=lf_big, entrywidth=134,
                **legend_common),
    legend2=dict(x=px2x(882), xanchor="left", y=px2y(7), font=lf_small, entrywidth=180,
                 **legend_common),
    legend3=dict(x=px2x(508), xanchor="right", y=px2y(355.5), font=lf_big, entrywidth=134,
                 **legend_common),
    legend4=dict(x=px2x(882), xanchor="left", y=px2y(353), font=lf_small, entrywidth=180,
                 **legend_common),
)

panel_font = dict(family=FONT, size=20, color="#1a1a1a")
for txt, xp, yp in [("<b>A)</b> DFB, 1%, 1500 kPa", 92, 25),
                    ("<b>B)</b>", 633, 25),
                    ("<b>C)</b> OFP, 1%, 400 kPa", 92, 373),
                    ("<b>D)</b>", 632, 373)]:
    fig.add_annotation(text=txt, xref="paper", yref="paper", x=px2x(xp), y=px2y(yp),
                       xanchor="left", yanchor="middle", showarrow=False, font=panel_font)

# separator between the two rows of panels
fig.add_shape(type="line", xref="paper", yref="paper", x0=px2x(12), x1=1.0,
              y0=px2y(345.5), y1=px2y(345.5), line=dict(color="#404040", width=3))

fig.write_html("out.html",
               post_script="document.body.style.margin='0';document.body.style.padding='0';"
                           "document.body.style.overflow='hidden';")
